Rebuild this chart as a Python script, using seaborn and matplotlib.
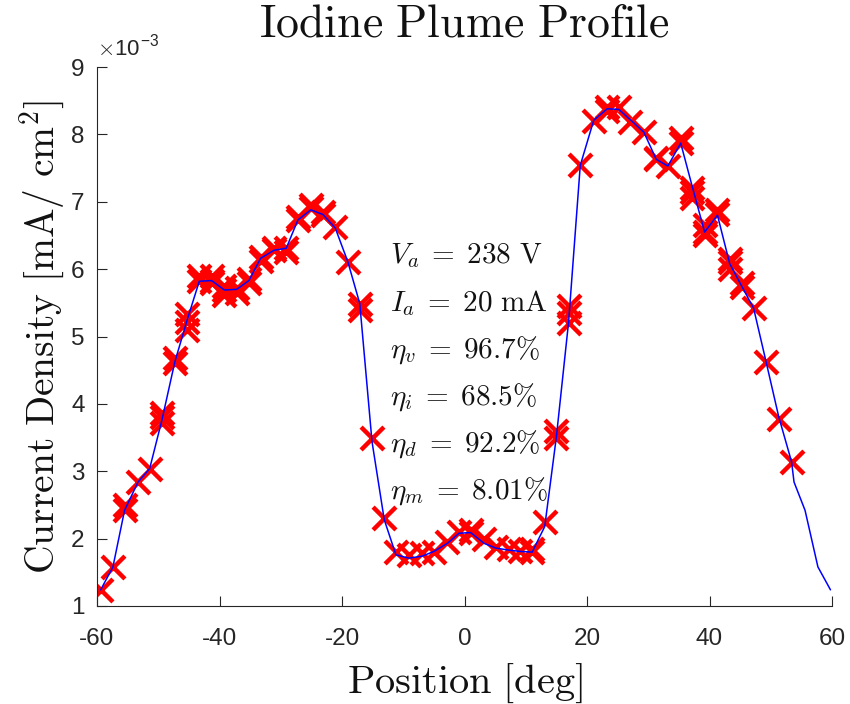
import matplotlib
matplotlib.use("Agg")
import matplotlib.pyplot as plt
import seaborn as sns
import pandas as pd

# Smoothed profile (blue line), current density in units of 1e-3 mA/cm^2
line_pos = [-59.4, -57.4, -55.5, -53.3, -51.4, -49.4, -47.3, -45.3, -43.3, -41.3,
            -39.2, -37.2, -35.2, -33.3, -31.1, -29.1, -27.2, -25.1, -23.1, -21.1,
            -19.05, -17.1, -15.1, -13.1, -11.2, -9.1, -6.9, -5.0, -2.8, -0.9,
            1.0, 3.2, 5.1, 7.2, 9.1, 11.05, 13.1, 15.0, 17.0, 18.9,
            21.1, 23.3, 25.2, 27.4, 29.3, 31.3, 33.2, 35.3, 37.2, 39.2,
            41.3, 43.3, 45.3, 47.2, 49.3, 51.3, 53.4, 53.8, 55.6, 57.7, 59.75]
line_density = [1.24, 1.58, 2.42, 2.84, 3.04, 3.76, 4.62, 5.24, 5.82, 5.83,
                5.69, 5.70, 5.83, 6.16, 6.28, 6.31, 6.73, 6.88, 6.81, 6.61,
                6.11, 5.49, 3.44, 2.28, 1.76, 1.71, 1.74, 1.81, 1.93, 2.08,
                2.09, 1.93, 1.86, 1.83, 1.81, 1.80, 2.18, 3.51, 5.22, 7.54,
                8.21, 8.38, 8.37, 8.19, 8.03, 7.63, 7.53, 7.87, 7.22, 6.55,
                6.80, 6.08, 5.74, 5.42, 4.60, 3.81, 3.14, 2.84, 2.42, 1.58, 1.24]

# Measured points (red crosses), current density in units of 1e-3 mA/cm^2
meas_pos = [-59.4, -57.4, -55.5, -55.5, -53.3, -51.4,
            -49.4, -49.4, -49.4, -47.3, -47.3, -45.3, -45.3, -45.3,
            -43.3, -43.3, -41.3, -41.3, -41.3, -39.2, -39.2, -39.2,
            -37.2, -37.2, -35.2, -35.2, -33.3, -33.3, -31.1, -31.1,
            -29.1, -29.1, -27.2, -27.2, -25.1, -25.1, -23.1, -23.1, -21.1,
            -19.05, -17.1, -17.1, -15.1, -13.1, -11.2, -9.1, -6.9, -5.0,
            -2.8, -0.9, 1.0, 1.0, 3.2, 5.1, 7.2, 9.1, 11.05, 11.05, 13.1,
            15.0, 15.0, 17.0, 17.0, 17.0, 18.9, 21.1, 23.3, 23.3, 25.2, 27.1,
            29.3, 31.3, 31.3, 33.2, 35.3, 35.3, 37.2, 37.2, 37.2,
            39.2, 39.2, 39.2, 41.3, 41.3, 43.3, 43.3, 43.3, 45.3, 45.3,
            47.2, 49.3, 51.3, 53.4]
meas_density = [1.24, 1.58, 2.42, 2.50, 2.84, 3.04,
                3.72, 3.80, 3.86, 4.60, 4.68, 5.10, 5.22, 5.33,
                5.82, 5.90, 5.80, 5.83, 5.90, 5.62, 5.69, 5.75,
                5.65, 5.72, 5.80, 5.86, 6.12, 6.18, 6.28, 6.32,
                6.25, 6.31, 6.73, 6.78, 6.90, 6.95, 6.80, 6.85, 6.62,
                6.11, 5.40, 5.48, 3.49, 2.30, 1.80, 1.75, 1.78, 1.80,
                1.95, 2.10, 2.08, 2.13, 2.00, 1.88, 1.85, 1.82, 1.80, 1.85, 2.25,
                3.50, 3.60, 5.20, 5.35, 5.45, 7.55, 8.20, 8.40, 8.35, 8.40, 8.18,
                8.03, 7.63, 7.65, 7.53, 7.87, 7.95, 7.05, 7.15, 7.20,
                6.50, 6.55, 6.65, 6.82, 6.88, 6.00, 6.10, 6.15, 5.74, 5.80,
                5.42, 4.62, 3.78, 3.14]

x_ticks = [-60, -40, -20, 0, 20, 40, 60]
y_ticks = [1, 2, 3, 4, 5, 6, 7, 8, 9]
annotations = [r"$V_a \;=\; 238\ \mathrm{V}$", r"$I_a \;=\; 20\ \mathrm{mA}$",
               r"$\eta_v \;=\; 96.7\%$", r"$\eta_i \;=\; 68.5\%$",
               r"$\eta_d \;=\; 92.2\%$", r"$\eta_m \;=\; 8.01\%$"]

sns.set_style("white")
plt.rcParams["mathtext.fontset"] = "cm"
plt.rcParams["font.family"] = ["Liberation Sans", "DejaVu Sans"]

line_df = pd.DataFrame({"pos": line_pos, "dens": line_density})
meas_df = pd.DataFrame({"pos": meas_pos, "dens": meas_density})

fig = plt.figure(figsize=(8.5, 7.04), dpi=100)
ax = fig.add_axes([97 / 850, (704 - 606) / 704, (832 - 97) / 850, (606 - 67) / 704])

sns.scatterplot(data=meas_df, x="pos", y="dens", marker="x", color="#ff0000",
                s=270, linewidth=3.2, ax=ax, zorder=2)
sns.lineplot(data=line_df, x="pos", y="dens", sort=False, estimator=None,
             color="#0000ff", linewidth=1.1, ax=ax, zorder=3)

ax.set_xlim(-60, 60)
ax.set_ylim(1, 9)
ax.set_xticks(x_ticks)
ax.set_yticks(y_ticks)
ax.set_xticklabels([str(t) for t in x_ticks])
ax.set_yticklabels([str(t) for t in y_ticks])

grey = "#262626"
for side in ["top", "right"]:
    ax.spines[side].set_visible(False)
for side in ["left", "bottom"]:
    ax.spines[side].set_color(grey)
    ax.spines[side].set_linewidth(0.8)
ax.tick_params(axis="both", which="major", bottom=True, left=True, top=False, right=False,
               direction="in", length=7, width=0.8, colors=grey,
               labelsize=17.5, labelcolor=grey)
ax.tick_params(axis="x", pad=16)
ax.tick_params(axis="y", pad=9)

ax.set_xlabel(r"$\mathrm{Position\ [deg]}$", fontsize=29, color="#111111", labelpad=8)
ax.set_ylabel(r"$\mathrm{Current\ Density\ [mA/\ cm^2]}$", fontsize=28.5,
              color="#111111", labelpad=3)
ax.set_title(r"$\mathrm{Iodine\ Plume\ Profile}$", fontsize=33, color="#111111", pad=22)

ax.text(0.0, 1.01, r"$\times$10$^{\mathregular{-3}}$", transform=ax.transAxes,
        fontsize=16, color=grey, ha="left", va="bottom")

for i, txt in enumerate(annotations):
    ax.text(-12.1, 6.2 - i * 0.70, txt, fontsize=21, color="#111111",
            ha="left", va="center")

fig.savefig("out.png", dpi=100)
